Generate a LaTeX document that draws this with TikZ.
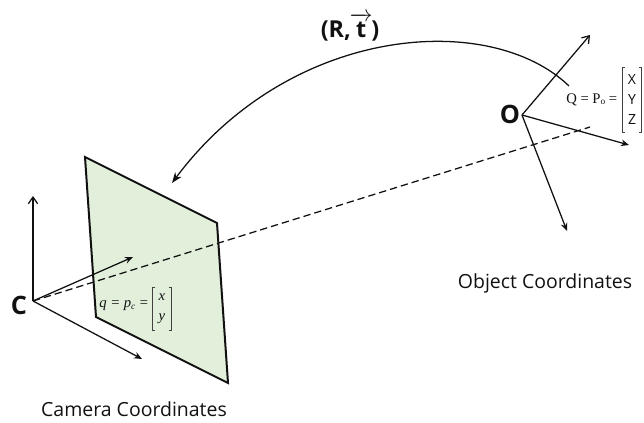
\documentclass[tikz,border=0pt]{standalone}
\usepackage{amsmath}
\usepackage{fontspec}
\setmainfont{Open Sans}
\newfontfamily\eqfont{Liberation Serif}
\usetikzlibrary{arrows.meta,positioning,calc}
\definecolor{planegreen}{HTML}{E2EFDA}
\definecolor{inkblack}{HTML}{111111}
\begin{document}
\begin{tikzpicture}[
    x=0.75pt, y=-0.75pt,
    axisarr/.style={-{Stealth[length=6pt,width=5pt]}, line width=0.95pt, inkblack},
    axisopen/.style={-{Straight Barb[length=5pt,width=7pt]}, line width=0.95pt, inkblack},
    planeedge/.style={draw=inkblack, line width=1.5pt, fill=planegreen, line join=miter},
    raydash/.style={dash pattern=on 5.5pt off 3pt, line width=0.95pt, inkblack},
    originlbl/.style={font=\bfseries\fontsize{19}{22}\selectfont, inkblack},
    captionlbl/.style={font=\fontsize{14.6}{17}\selectfont, inkblack, inner sep=0pt, anchor=base},
    eqnlbl/.style={font=\eqfont\fontsize{11}{13}\selectfont, inkblack, inner sep=0pt},
    vecbody/.style={inner sep=0pt, align=center, inkblack},
    vecbar/.style={draw=inkblack!80, line width=0.7pt}
  ]
    \useasboundingbox (0,0) rectangle (644,423);

    % === Image plane ===
    \coordinate (pa) at (85,157);
    \coordinate (pb) at (217,223);
    \coordinate (pc) at (228,383);
    \coordinate (pd) at (96,317);
    \draw[planeedge] (pa) -- (pb) -- (pc) -- (pd) -- cycle;

    % === Camera frame ===
    \coordinate (cam) at (33,301);
    \coordinate (camup) at (33,196);
    \coordinate (camdepth) at (133,257);
    \coordinate (camright) at (142,359);
    \draw[axisopen] (cam) -- (camup);
    \draw[axisarr] (cam) -- (camdepth);
    \draw[axisarr] (cam) -- (camright);
    \node[originlbl] (camlbl) at (19,305) {C};

    % === Object frame ===
    \coordinate (obj) at (522,115);
    \coordinate (objup) at (590,35);
    \coordinate (objright) at (629,145);
    \coordinate (objdown) at (567,231);
    \draw[axisopen] (obj) -- (objup);
    \draw[axisarr] (obj) -- (objright);
    \draw[axisarr] (obj) -- (objdown);
    \node[originlbl] (objlbl) at (510,114) {O};

    % Ray
    \coordinate (rayend) at (590,127);
    \draw[raydash] (cam) -- (rayend);

    % Transform
    \coordinate (arcstart) at (569,86);
    \coordinate (arcend) at (172,183);
    \draw[-{Stealth[length=8pt,width=6pt]}, line width=0.95pt, inkblack]
      (arcstart) .. controls (490,10) and (290,25) .. (arcend);
    \node[font=\bfseries\fontsize{17.5}{22}\selectfont, inkblack] (rt) at (350,27)
      {(R,\kern-1pt$\overrightarrow{\text{t}}$\kern-1pt)};

    % Equations
    \node[eqnlbl, anchor=west] (qobj) at (566,100)
      {Q = P\raisebox{-1pt}{\scriptsize o} =};
    \node[vecbody, font=\fontsize{10.5}{15}\selectfont, minimum width=14pt, minimum height=49pt] (vecobj) at (632,100)
      {X\\Y\\Z};
    \draw[vecbar] ([xshift=2pt]vecobj.north west) -- (vecobj.north west) -- (vecobj.south west) -- ++(2pt,0);
    \draw[vecbar] ([xshift=-2pt]vecobj.north east) -- (vecobj.north east) -- (vecobj.south east) -- ++(-2pt,0);

    \node[eqnlbl, anchor=west, font=\eqfont\itshape\fontsize{11}{13}\selectfont] (qcam) at (99,306)
      {q = p\raisebox{-1pt}{\scriptsize c} =};
    \node[vecbody, font=\eqfont\itshape\fontsize{11}{15}\selectfont, minimum width=14pt, minimum height=32pt] (veccam) at (162,309)
      {x\\y};
    \draw[vecbar] ([xshift=2pt]veccam.north west) -- (veccam.north west) -- (veccam.south west) -- ++(2pt,0);
    \draw[vecbar] ([xshift=-2pt]veccam.north east) -- (veccam.north east) -- (veccam.south east) -- ++(-2pt,0);

    % Captions
    \node[captionlbl] (camcap) at (134,417) {Camera Coordinates};
    \node[captionlbl] (objcap) at (545,289) {Object Coordinates};
\end{tikzpicture}
\end{document}
